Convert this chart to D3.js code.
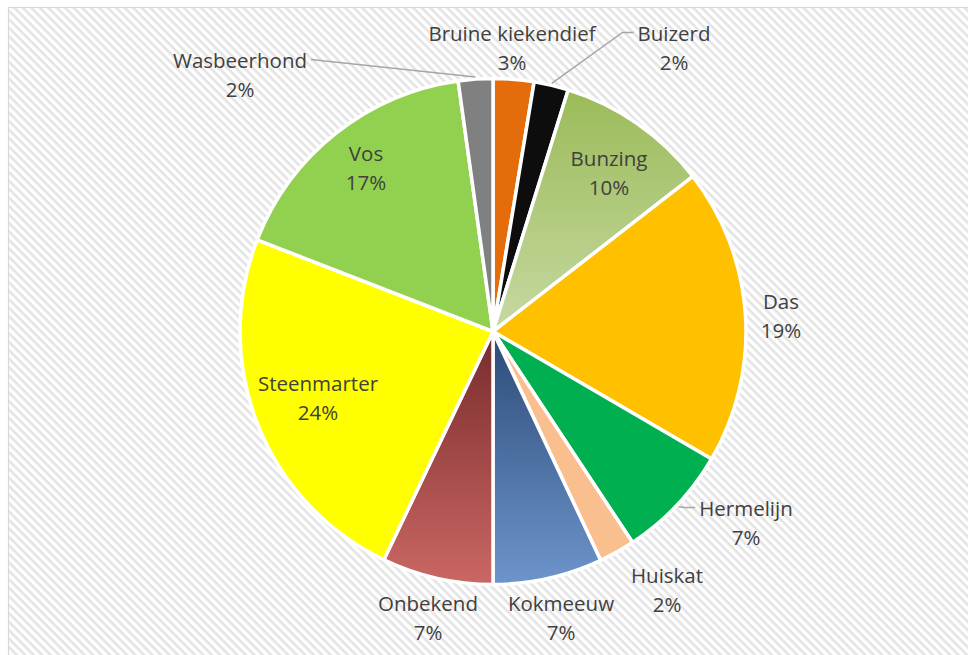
<!DOCTYPE html>
<html>
<head>
<meta charset="utf-8">
<script src="https://cdn.jsdelivr.net/npm/d3@7"></script>
<style>
  html, body { margin: 0; padding: 0; background: #fff; }
  svg { display: block; }
</style>
</head>
<body>
<div id="pie"></div>
<script>
// data (share of each predator, in %)
const categories = ['Bruine kiekendief', 'Buizerd', 'Bunzing', 'Das', 'Hermelijn', 'Huiskat',
  'Kokmeeuw', 'Onbekend', 'Steenmarter', 'Vos', 'Wasbeerhond'];
const shares = [2.6, 2.2, 9.7, 18.9, 7.3, 2.3, 7.0, 7.1, 23.8, 16.9, 2.2];

// slice fills: plain colour or [top, bottom] for a vertical gradient
const fills = ['#e46c0a', '#0d0d0d', ['#9bbb59', '#c6d9a1'], '#ffc000', '#00b050', '#fabf8f',
  ['#2c4a77', '#6d95cc'], ['#772b2b', '#cb6764'], '#ffff00', '#92d050', '#808080'];

// label placement relative to the pie centre (x centre, first baseline)
const labelAt = {
  'Bruine kiekendief': [19, -291], 'Buizerd': [181, -291], 'Bunzing': [116, -166],
  'Das': [288, -23], 'Hermelijn': [253, 184], 'Huiskat': [174, 251], 'Kokmeeuw': [68, 279],
  'Onbekend': [-65, 279], 'Steenmarter': [-175, 59], 'Vos': [-127, -171], 'Wasbeerhond': [-253, -264]
};
// which labels get a leader line and on which side of the text it ends
const leaders = {'Wasbeerhond': 'right', 'Buizerd': 'left', 'Hermelijn': 'left'};

const width = 968, height = 655;
const cx = 493, cy = 331.5, radius = 253;
const textColor = '#404040';

const svg = d3.select('#pie').append('svg')
  .attr('width', width)
  .attr('height', height);

const defs = svg.append('defs');

// hatched chart background
const pat = defs.append('pattern')
  .attr('id', 'hatch')
  .attr('patternUnits', 'userSpaceOnUse')
  .attr('width', 6)
  .attr('height', 6)
  .attr('patternTransform', 'rotate(45)');
pat.append('rect').attr('width', 6).attr('height', 6).attr('fill', '#fff');
pat.append('rect').attr('width', 6).attr('height', 2.6).attr('fill', '#e4e4e4');

svg.append('rect')
  .attr('x', 8.5).attr('y', 7.5)
  .attr('width', width).attr('height', height)
  .attr('fill', 'url(#hatch)')
  .attr('stroke', '#d9d9d9')
  .attr('stroke-width', 1.2);

fills.forEach((f, i) => {
  if (Array.isArray(f)) {
    const g = defs.append('linearGradient')
      .attr('id', 'grad' + i)
      .attr('x1', 0).attr('y1', 0).attr('x2', 0).attr('y2', 1);
    g.append('stop').attr('offset', 0).attr('stop-color', f[0]);
    g.append('stop').attr('offset', 1).attr('stop-color', f[1]);
  }
});

const data = categories.map((c, i) => ({name: c, value: shares[i], idx: i}));
const total = d3.sum(shares);
const pct = d3.format('.0%');

const pie = d3.pie().sort(null).value(d => d.value);
const arc = d3.arc().innerRadius(0).outerRadius(radius);
const arcs = pie(data);

const g = svg.append('g').attr('transform', `translate(${cx},${cy})`);

g.selectAll('path.slice')
  .data(arcs)
  .enter()
  .append('path')
  .attr('class', 'slice')
  .attr('d', arc)
  .attr('fill', d => Array.isArray(fills[d.data.idx]) ? `url(#grad${d.data.idx})` : fills[d.data.idx])
  .attr('stroke', '#fff')
  .attr('stroke-width', 3.5)
  .attr('stroke-linejoin', 'round');

// labels
const labels = g.selectAll('text.lbl')
  .data(arcs)
  .enter()
  .append('text')
  .attr('class', 'lbl')
  .attr('text-anchor', 'middle')
  .attr('fill', textColor)
  .style('font-family', '"Open Sans", sans-serif')
  .style('font-size', '20.5px')
  .attr('transform', d => `translate(${labelAt[d.data.name][0]},${labelAt[d.data.name][1]})`);

labels.append('tspan').attr('x', 0).attr('y', 0).text(d => d.data.name);
labels.append('tspan').attr('x', 0).attr('y', 29).text(d => pct(d.data.value / total));

// leader lines, from slice edge (mid angle) to label
labels.each(function (d) {
  const side = leaders[d.data.name];
  if (!side) return;
  const box = this.firstChild.getBBox();
  const [tx, ty] = labelAt[d.data.name];
  const a = (d.startAngle + d.endAngle) / 2;
  const p0 = [Math.sin(a) * (radius + 2), -Math.cos(a) * (radius + 2)];
  const yMid = ty + box.y + box.height / 2;
  let pts;
  if (side === 'right') {
    const end = [tx + box.x + box.width + 4, yMid];
    pts = [p0, end];
  } else {
    const end = [tx + box.x - 4, yMid];
    pts = [p0, [end[0] - 11, end[1]], end];
  }
  g.append('path')
    .attr('d', d3.line()(pts))
    .attr('fill', 'none')
    .attr('stroke', '#a6a6a6')
    .attr('stroke-width', 1.5);
});
</script>
</body>
</html>
